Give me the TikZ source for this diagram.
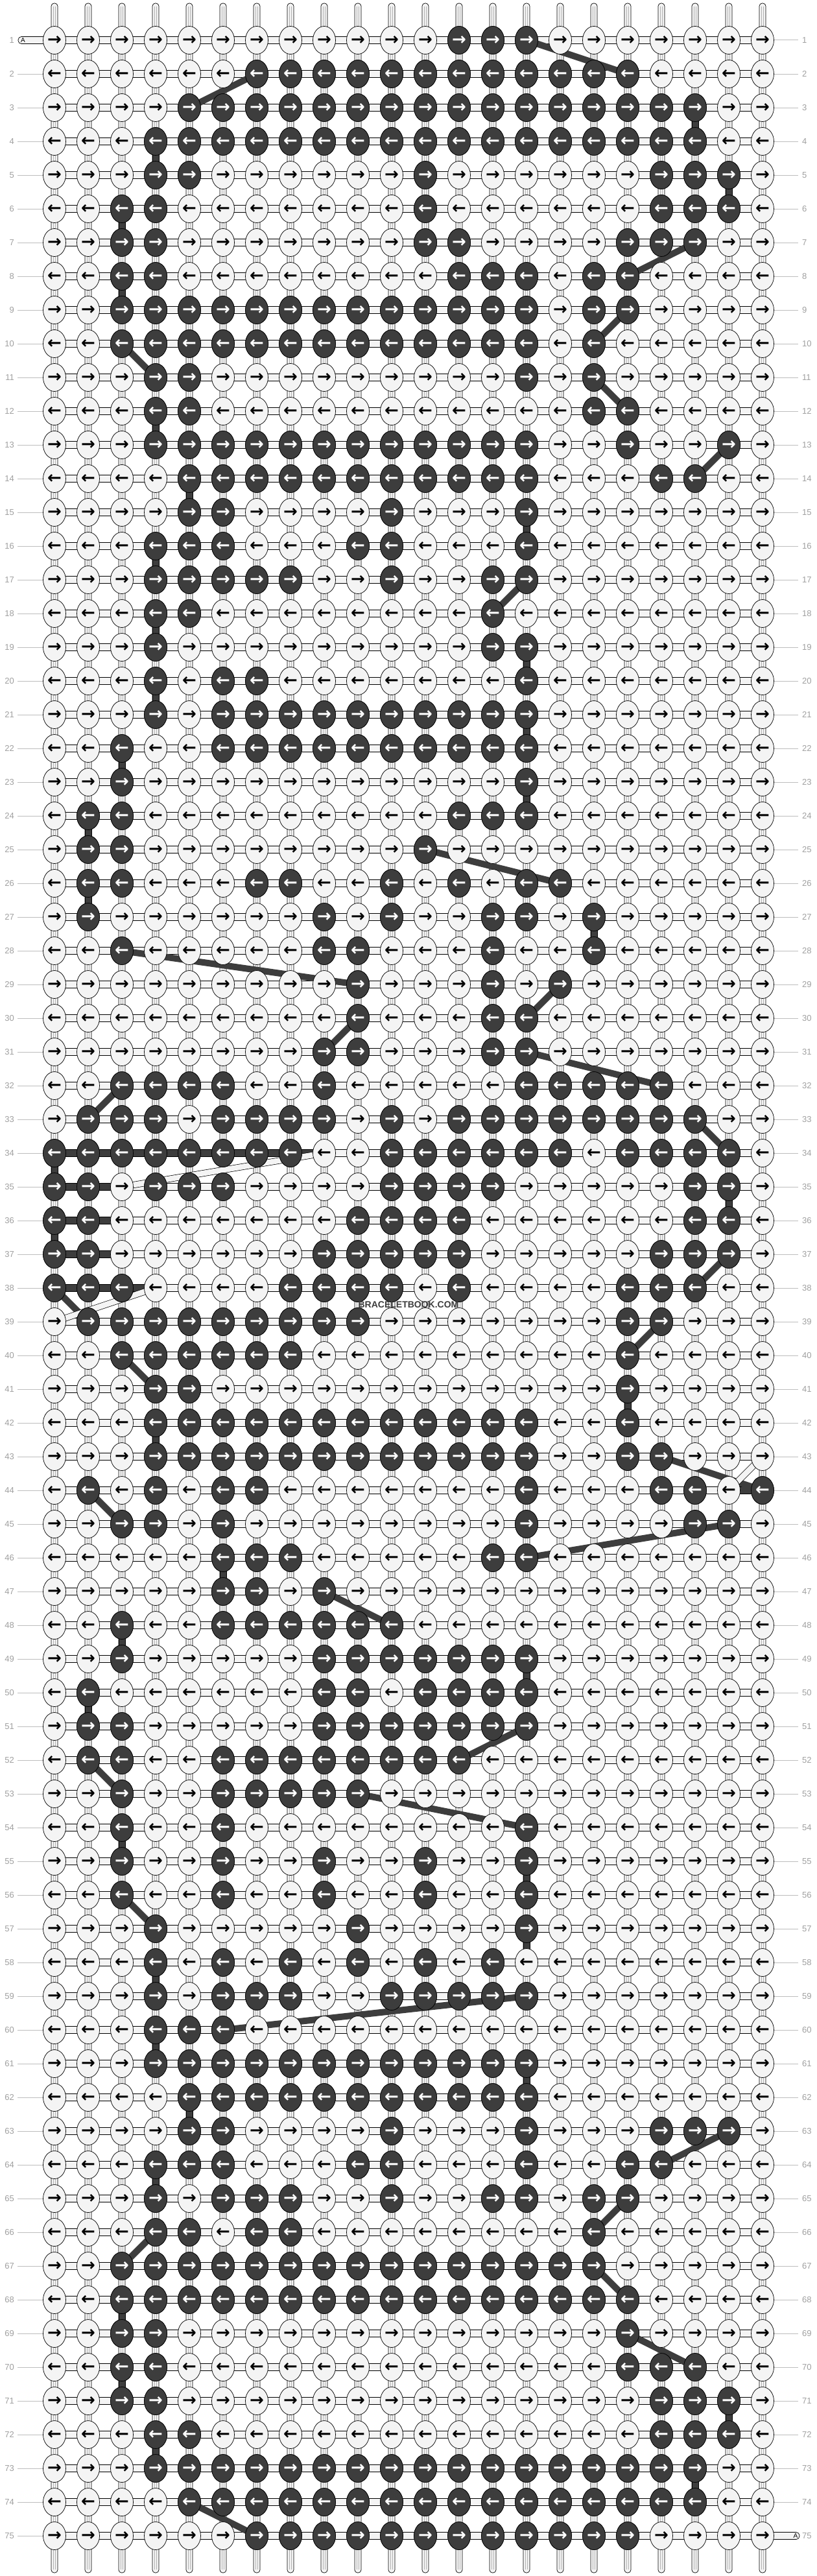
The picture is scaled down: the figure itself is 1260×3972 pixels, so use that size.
\documentclass[tikz,border=0pt]{standalone}
\usepackage{fontspec}
\setmainfont{Liberation Sans}
\newfontfamily\arrfont{DejaVu Sans}
\usetikzlibrary{shapes.geometric}
\definecolor{lite}{HTML}{F4F4F4}
\definecolor{drk}{HTML}{3D3D3D}
\definecolor{lblgray}{HTML}{A0A0A0}
\definecolor{lngray}{HTML}{BDBDBD}
\definecolor{innergray}{HTML}{B0B0B0}
\pgfdeclarelayer{bg}
\pgfdeclarelayer{strings}
\pgfsetlayers{bg,strings,main}
\newcommand{\knotarrow}[1]{\ifodd#1\relax \raisebox{-0.07em}{→}\else \raisebox{-0.07em}{←}\fi}
\tikzset{
  knotbase/.style={ellipse, draw=black, line width=0.7pt, minimum width=35pt, minimum height=43pt, inner sep=0pt, font=\arrfont\bfseries\fontsize{26}{26}\selectfont},
  knotL/.style={knotbase, fill=lite, text=black},
  knotD/.style={knotbase, fill=drk, text=white},
  lbl/.style={inner sep=0pt, text=lblgray, font=\fontsize{13}{13}\selectfont},
  lblline/.style={draw=lngray, line width=1pt},
  colband/.style={draw=black, fill=lite, line width=0.7pt, rounded corners=4.5pt},
  rowband/.style={draw=black, fill=lite, line width=0.7pt},
  darkseg/.style={draw=black, fill=drk, line width=0.7pt},
  diagdark/.style={draw=drk, line width=10pt},
  diaglite/.style={draw=black, line width=0.7pt, double=lite, double distance=8.6pt},
  pill/.style={draw=black, fill=lite, line width=0.7pt, rounded corners=5pt},
  endlbl/.style={inner sep=0pt, text=black, font=\fontsize{10}{10}\selectfont},
  wmark/.style={inner sep=0pt, text=drk, font=\bfseries\fontsize{14}{14}\selectfont}
}
\begin{document}
\begin{tikzpicture}[x=1pt,y=-1pt]
\useasboundingbox (0,0) rectangle (1260,3972);

% vertical strings and horizontal rows (background)
\begin{pgfonlayer}{bg}
\fill[white] (0,0) rectangle (1260,3972);
\foreach \c in {1,...,22}{
  \pgfmathsetmacro\X{84+52*(\c-1)}
  \path[colband] (\X-5,5) rectangle (\X+5,3967);
  \draw[innergray, line width=0.5pt] (\X-1.7,10) -- (\X-1.7,3962) (\X+1.7,10) -- (\X+1.7,3962);
}
\path[pill] (28,56.5) rectangle (80,67.5);
\path[pill] (1180,3904.5) rectangle (1233,3915.5);
\foreach \r in {1,...,75}{
  \pgfmathsetmacro\Y{62+52*(\r-1)}
  \path[rowband] (84,\Y-5.5) rectangle (1176,\Y+5.5);
}
% dark vertical segments (upper row / column)
\foreach \r/\c in {3/20,4/4,5/21,6/3,8/3,12/4,14/5,15/15,16/4,18/4,19/15,20/4,21/15,22/3,23/15,24/2,26/2,27/17,34/1,35/21,36/1,41/18,42/4,46/6,48/3,49/15,50/2,54/3,55/15,57/15,58/4,60/4,61/15,62/5,64/4,68/3,70/3,71/21,72/4,73/20}{
  \pgfmathsetmacro\X{84+52*(\c-1)}
  \pgfmathsetmacro\Y{62+52*(\r-1)}
  \path[darkseg] (\X-5,\Y+15) rectangle (\X+5,\Y+37);
}
% dark horizontal segments (row / left column)
\foreach \r/\c in {34/1,34/2,34/3,34/4,34/5,34/6,34/7,34/8,35/1,35/2,36/1,36/2,37/1,37/2,38/1,38/2,38/3,44/21}{
  \pgfmathsetmacro\X{84+52*(\c-1)}
  \pgfmathsetmacro\Y{62+52*(\r-1)}
  \path[darkseg] (\X,\Y-5.5) rectangle (\X+52,\Y+5.5);
}
\end{pgfonlayer}

\node[endlbl] (endA1) at (35.5,62) {A};
\node[endlbl] (endA2) at (1227,3910) {A};

% knots and labels
\foreach \r/\dl in {
1/{13,14,15},
2/{7,...,18},
3/{5,...,20},
4/{4,...,20},
5/{4,5,12,19,20,21},
6/{3,4,12,19,20,21},
7/{3,4,12,13,18,19,20},
8/{3,4,13,14,15,17,18},
9/{3,...,15,17,18},
10/{3,...,15,17},
11/{4,5,15,17},
12/{4,5,17,18},
13/{4,...,15,18,21},
14/{5,...,15,19,20},
15/{5,6,11,15},
16/{4,5,6,10,11,15},
17/{4,5,6,7,8,11,14,15},
18/{4,5,14},
19/{4,14,15},
20/{4,6,7,15},
21/{4,6,7,8,9,10,11,12,13,14,15},
22/{3,6,7,8,9,10,11,12,13,14,15},
23/{3,15},
24/{2,3,13,14,15},
25/{2,3,12},
26/{2,3,7,8,11,13,15,16},
27/{2,9,11,14,15,17},
28/{3,9,10,14,17},
29/{10,14,16},
30/{10,14,15},
31/{9,10,14,15},
32/{3,4,5,6,9,15,16,17,18,19},
33/{2,3,4,6,7,8,9,11,13,14,15,16,17,18,19,20},
34/{1,2,3,4,5,6,7,8,11,12,13,14,15,16,18,19,20,21},
35/{1,2,4,5,6,11,12,13,14,20,21},
36/{1,2,10,11,12,13,20,21},
37/{1,2,9,10,11,12,13,19,20,21},
38/{1,2,3,8,9,10,11,13,18,19,20},
39/{2,3,4,5,6,7,8,9,10,18,19},
40/{3,4,5,6,7,8,18},
41/{4,5,18},
42/{4,...,15,18},
43/{4,...,15,18,19},
44/{2,4,6,7,15,19,20,22},
45/{3,4,6,15,20,21},
46/{6,7,8,14,15},
47/{6,7,9},
48/{3,6,7,8,9,10,11},
49/{3,9,10,11,12,13,14,15},
50/{2,9,10,12,13,14,15},
51/{2,3,9,10,11,12,13,14,15},
52/{2,3,6,7,8,9,10,11,12,13},
53/{3,6,7,8,9,10},
54/{3,6,15},
55/{3,6,...,15},
56/{3,6,...,15},
57/{4,10,15},
58/{4,6,...,15},
59/{4,6,7,8,11,12,13,14,15},
60/{4,5,6},
61/{4,...,15},
62/{5,...,15},
63/{5,6,11,15,19,20,21},
64/{4,5,6,10,11,15,18,19},
65/{4,6,7,8,11,14,15,17,18},
66/{4,5,7,8,17},
67/{3,...,17},
68/{3,...,18},
69/{3,4,18},
70/{3,4,18,19,20},
71/{3,4,19,20,21},
72/{4,5,19,20,21},
73/{4,...,20},
74/{5,...,20},
75/{7,...,18}}{
  \pgfmathsetmacro\Y{62+52*(\r-1)}
  \foreach \c in {1,...,22}{
    \node[knotL] (k-\r-\c) at ({84+52*(\c-1)},\Y) {\knotarrow{\r}};
  }
  \foreach \c in \dl{
    \node[knotD] (k-\r-\c) at ({84+52*(\c-1)},\Y) {\knotarrow{\r}};
  }
  \node[lbl, anchor=east] (ll-\r) at (22,\Y) {\r};
  \node[lbl, anchor=west] (rl-\r) at (1237,\Y) {\r};
  \ifnum\r>1 \draw[lblline] (27,\Y) -- (k-\r-1.west); \fi
  \ifnum\r<75 \draw[lblline] (k-\r-22.east) -- (1231,\Y); \fi
}

% moving strings
\begin{pgfonlayer}{strings}
\foreach \ra/\ca/\rb/\cb in {1/15/2/18,3/5/2/7,7/20/8/18,9/18/10/17,10/3/11/4,11/17/12/18,13/21/14/20,17/15/18/14,25/12/26/16,28/3/29/10,29/16/30/15,30/10/31/9,31/15/32/19,32/3/33/2,33/20/34/21,37/21/38/20,38/1/39/2,39/19/40/18,40/3/41/4,43/19/44/22,44/2/45/3,45/21/46/15,47/9/48/11,51/15/52/13,52/2/53/3,53/10/54/15,56/3/57/4,59/15/60/6,63/21/64/19,65/18/66/17,66/4/67/3,67/17/68/18,69/18/70/20,74/5/75/7}{
  \draw[diagdark] (k-\ra-\ca.center) -- (k-\rb-\cb.center);
}
\foreach \ra/\ca/\rb/\cb in {35/3/34/9,39/1/38/4,44/21/43/22}{
  \draw[diaglite] (k-\ra-\ca.center) -- (k-\rb-\cb.center);
}
\end{pgfonlayer}

\node[wmark] (wm) at (630,2012) {BRACELETBOOK.COM};
\end{tikzpicture}
\end{document}
